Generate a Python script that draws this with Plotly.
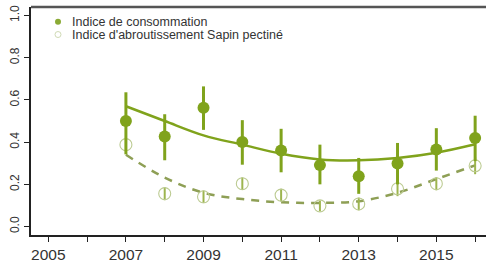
import plotly.graph_objects as go

years = [2007, 2008, 2009, 2010, 2011, 2012, 2013, 2014, 2015, 2016]

# Indice de consommation (filled)
conso = [0.50, 0.427, 0.563, 0.40, 0.36, 0.291, 0.238, 0.299, 0.365, 0.419]
conso_hi = [0.636, 0.532, 0.664, 0.504, 0.463, 0.388, 0.325, 0.396, 0.466, 0.525]
conso_lo = [0.342, 0.314, 0.458, 0.293, 0.257, 0.200, 0.155, 0.200, 0.265, 0.310]
conso_fit = [0.57, 0.50, 0.432, 0.388, 0.345, 0.318, 0.314, 0.325, 0.35, 0.39]

# Indice d'abroutissement Sapin pectiné (open)
abr = [0.388, 0.156, 0.141, 0.203, 0.149, 0.098, 0.107, 0.179, 0.203, 0.288]
abr_err = [0.035, 0.031, 0.03, 0.03, 0.03, 0.025, 0.03, 0.035, 0.031, 0.04]
abr_fit = [0.34, 0.232, 0.16, 0.13, 0.115, 0.112, 0.12, 0.16, 0.225, 0.29]

x_tick_vals = list(range(2005, 2017))
x_tick_text = [str(y) if y % 2 == 1 else "" for y in x_tick_vals]
y_tick_vals = [0.0, 0.2, 0.4, 0.6, 0.8, 1.0]
y_tick_text = ["0.0", "0.2", "0.4", "0.6", "0.8", "1.0"]

legend_labels = ["Indice de consommation", "Indice d'abroutissement Sapin pectiné"]

GREEN = "#80A31C"
DASH = "#8E9F55"
PALE = "#BCCB92"

fig = go.Figure()

fig.add_trace(go.Scatter(
    x=years, y=abr_fit, mode="lines", line=dict(color=DASH, width=2.5, dash="8px,7px"),
    line_shape="spline", hoverinfo="skip", showlegend=False))
fig.add_trace(go.Scatter(
    x=years, y=conso_fit, mode="lines", line=dict(color=GREEN, width=2.5),
    line_shape="spline", hoverinfo="skip", showlegend=False))

fig.add_trace(go.Scatter(
    x=years, y=abr, mode="markers",
    marker=dict(symbol="circle-open", size=12, color=PALE, line=dict(width=1.1, color=PALE)),
    error_y=dict(type="data", array=abr_err, color="#9DB54E", thickness=2, width=0),
    showlegend=False))

fig.add_trace(go.Scatter(
    x=years, y=conso, mode="markers",
    marker=dict(symbol="circle", size=12, color=GREEN),
    error_y=dict(type="data", symmetric=False,
                 array=[h - v for h, v in zip(conso_hi, conso)],
                 arrayminus=[v - l for v, l in zip(conso, conso_lo)],
                 color=GREEN, thickness=3, width=0),
    showlegend=False))

# manual legend
W, H = 455, 232
def px(xp):
    return (xp - 31) / W
def py(yp):
    return (239 - yp) / H

shapes = [
    dict(type="line", xref="paper", yref="paper", x0=0, x1=1, y0=1, y1=1,
         line=dict(color="#555555", width=2.5)),
    dict(type="circle", xref="paper", yref="paper", xsizemode="pixel", ysizemode="pixel",
         xanchor=px(58), yanchor=py(22), x0=-3, x1=3, y0=-3, y1=3,
         fillcolor="#8AAA35", line=dict(width=0)),
    dict(type="circle", xref="paper", yref="paper", xsizemode="pixel", ysizemode="pixel",
         xanchor=px(58), yanchor=py(35), x0=-3, x1=3, y0=-3, y1=3,
         fillcolor="rgba(0,0,0,0)", line=dict(width=1, color="#D0DAB5")),
]
annotations = [
    dict(text=legend_labels[0], xref="paper", yref="paper", x=px(70), y=py(22),
         xanchor="left", yanchor="middle", showarrow=False,
         font=dict(family="Liberation Sans, Arial", size=12.5, color="#333333")),
    dict(text=legend_labels[1], xref="paper", yref="paper", x=px(70), y=py(35),
         xanchor="left", yanchor="middle", showarrow=False,
         font=dict(family="Liberation Sans, Arial", size=12.5, color="#333333")),
]

fig.update_layout(
    width=486, height=263,
    margin=dict(l=31, r=0, t=7, b=24),
    paper_bgcolor="white", plot_bgcolor="white",
    shapes=shapes, annotations=annotations,
    xaxis=dict(range=[2004.554, 2016.28], tickvals=x_tick_vals, ticktext=x_tick_text,
               showgrid=False, zeroline=False, showline=True, linecolor="#222222", linewidth=1.5,
               ticks="outside", ticklen=5, tickwidth=1, tickcolor="#222222",
               tickfont=dict(family="Liberation Sans, Arial", size=15.5, color="#333333")),
    yaxis=dict(range=[-0.04, 1.04], tickvals=y_tick_vals, ticktext=y_tick_text,
               showgrid=False, zeroline=False, showline=True, linecolor="#222222", linewidth=1.5,
               ticks="outside", ticklen=5, tickwidth=1, tickcolor="#222222", tickangle=-90,
               tickfont=dict(family="Liberation Sans, Arial", size=12, color="#333333")),
)

fig.write_html("out.html", config={"displayModeBar": False},
               post_script="document.body.style.margin='0';document.body.style.overflow='hidden';")
